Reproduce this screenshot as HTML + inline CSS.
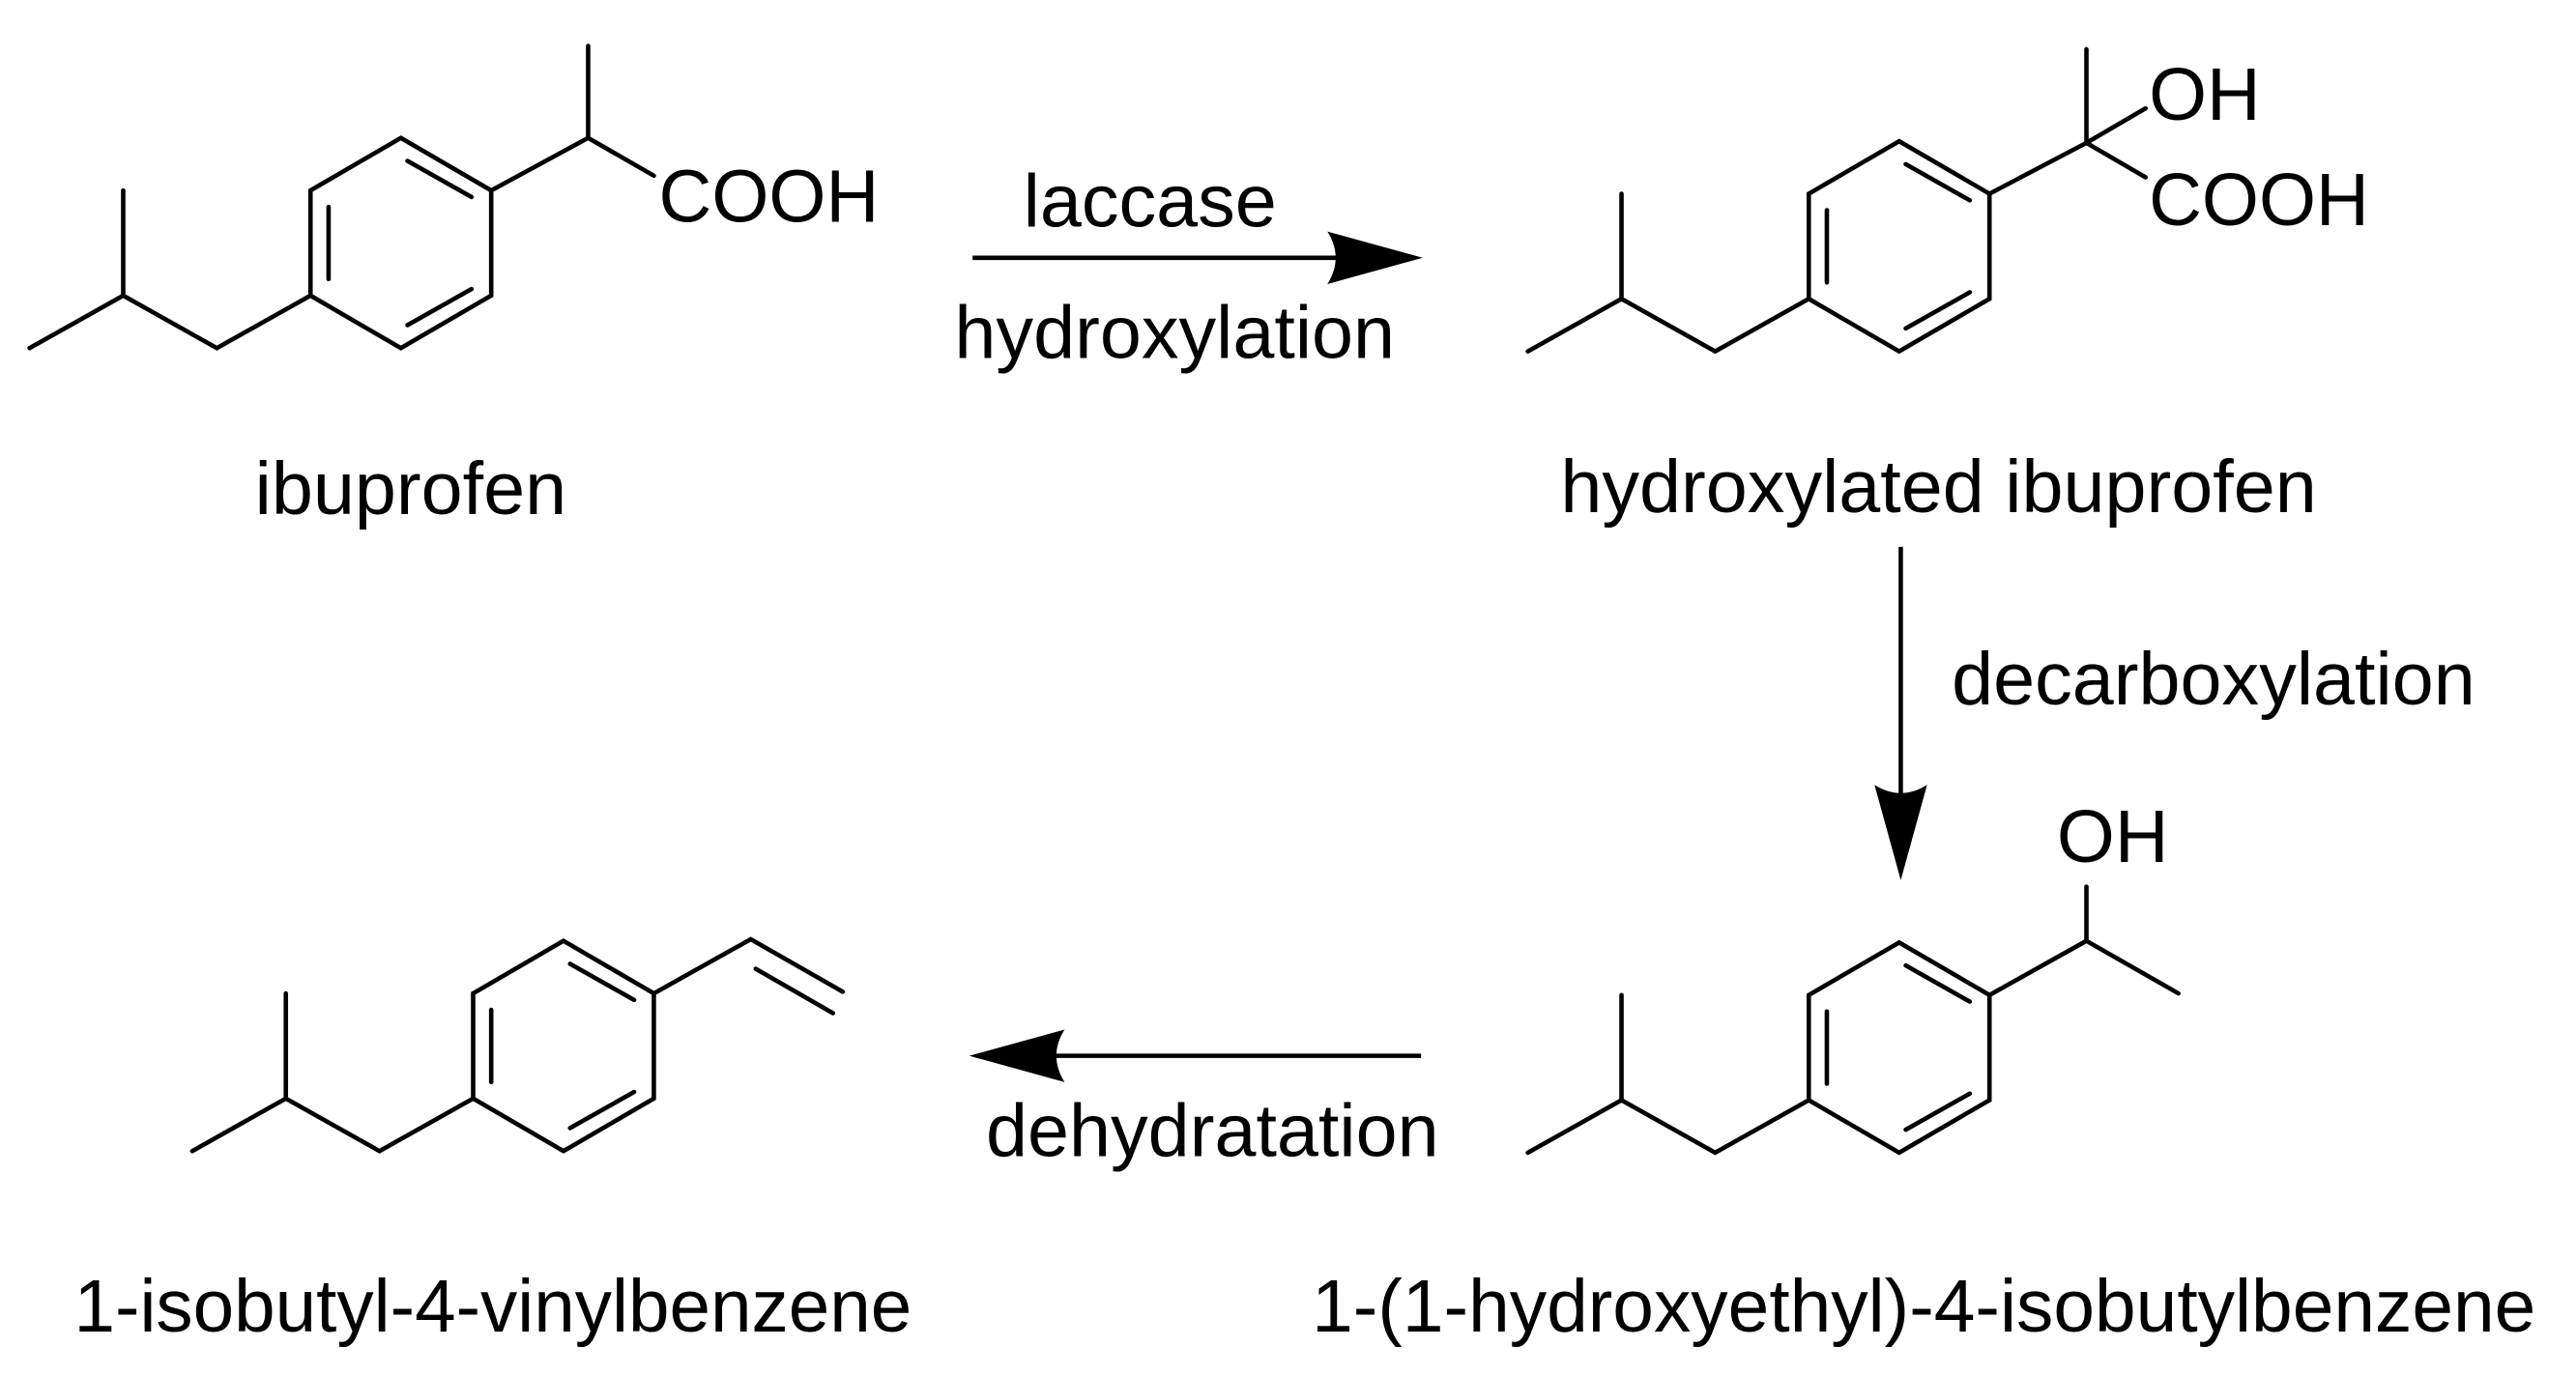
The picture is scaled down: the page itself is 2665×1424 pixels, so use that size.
<!DOCTYPE html>
<html><head><meta charset="utf-8"><style>
html,body{margin:0;padding:0;background:#fff;}
svg{display:block;}
text{font-family:"Liberation Sans",Arial,sans-serif;font-size:45.5px;fill:#000;}
</style></head><body>
<svg width="2665" height="1424" viewBox="0 0 1568 838" preserveAspectRatio="none" xmlns="http://www.w3.org/2000/svg">
<defs>
<g id="mol" fill="none" stroke="#000" stroke-width="2.7" stroke-linecap="round" stroke-linejoin="miter">
  <polygon points="0,-64 55,-32 55,32 0,64 -55,32 -55,-32"/>
  <line x1="-44" y1="-22" x2="-44" y2="22"/>
  <line x1="4" y1="-50" x2="43" y2="-28"/>
  <line x1="4" y1="50" x2="43" y2="28"/>
  <polyline points="-55,32 -112,64 -169,32 -226,64"/>
  <line x1="-169" y1="32" x2="-169" y2="-32"/>
</g>
</defs>

<!-- ibuprofen -->
<use href="#mol" x="244" y="148"/>
<g fill="none" stroke="#000" stroke-width="2.7" stroke-linecap="round">
  <polyline points="299,116 358,84 398,107"/>
  <line x1="358" y1="84" x2="358" y2="28"/>
</g>
<text x="401" y="135" textLength="134" lengthAdjust="spacingAndGlyphs">COOH</text>
<text x="250" y="313" text-anchor="middle">ibuprofen</text>

<!-- arrow 1 -->
<line x1="592" y1="157" x2="830" y2="157" stroke="#000" stroke-width="2.7"/>
<path d="M866,157 L808,141 Q818,157 808,173 Z" fill="#000"/>
<text x="700" y="138" text-anchor="middle">laccase</text>
<text x="715" y="218" text-anchor="middle">hydroxylation</text>

<!-- hydroxylated ibuprofen -->
<use href="#mol" x="1156" y="150"/>
<g fill="none" stroke="#000" stroke-width="2.7" stroke-linecap="round">
  <polyline points="1211,118 1270,87 1306,108"/>
  <line x1="1270" y1="87" x2="1270" y2="30"/>
  <line x1="1270" y1="87" x2="1306" y2="66"/>
</g>
<text x="1308" y="73" textLength="68" lengthAdjust="spacingAndGlyphs">OH</text>
<text x="1308" y="137" textLength="134" lengthAdjust="spacingAndGlyphs">COOH</text>
<text x="1180" y="312" text-anchor="middle">hydroxylated ibuprofen</text>

<!-- arrow 2 -->
<line x1="1157" y1="333" x2="1157" y2="500" stroke="#000" stroke-width="2.7"/>
<path d="M1157,536 L1141,478 Q1157,488 1173,478 Z" fill="#000"/>
<text x="1188" y="429">decarboxylation</text>

<!-- 1-(1-hydroxyethyl)-4-isobutylbenzene -->
<use href="#mol" x="1156" y="638"/>
<g fill="none" stroke="#000" stroke-width="2.7" stroke-linecap="round">
  <polyline points="1211,606 1270,573 1326,605"/>
  <line x1="1270" y1="573" x2="1270" y2="540"/>
</g>
<text x="1252" y="525" textLength="68" lengthAdjust="spacingAndGlyphs">OH</text>
<text x="1171" y="811" text-anchor="middle" textLength="745" lengthAdjust="spacingAndGlyphs">1-(1-hydroxyethyl)-4-isobutylbenzene</text>

<!-- arrow 3 -->
<line x1="865" y1="643" x2="625" y2="643" stroke="#000" stroke-width="2.7"/>
<path d="M590,643 L648,627 Q638,643 648,659 Z" fill="#000"/>
<text x="738" y="704" text-anchor="middle">dehydratation</text>

<!-- 1-isobutyl-4-vinylbenzene -->
<use href="#mol" x="343" y="637"/>
<g fill="none" stroke="#000" stroke-width="2.7" stroke-linecap="round">
  <polyline points="398,605 457,572 513,604"/>
  <line x1="460" y1="590" x2="507" y2="617"/>
</g>
<text x="300" y="811" text-anchor="middle" textLength="510" lengthAdjust="spacingAndGlyphs">1-isobutyl-4-vinylbenzene</text>
</svg>
</body></html>
